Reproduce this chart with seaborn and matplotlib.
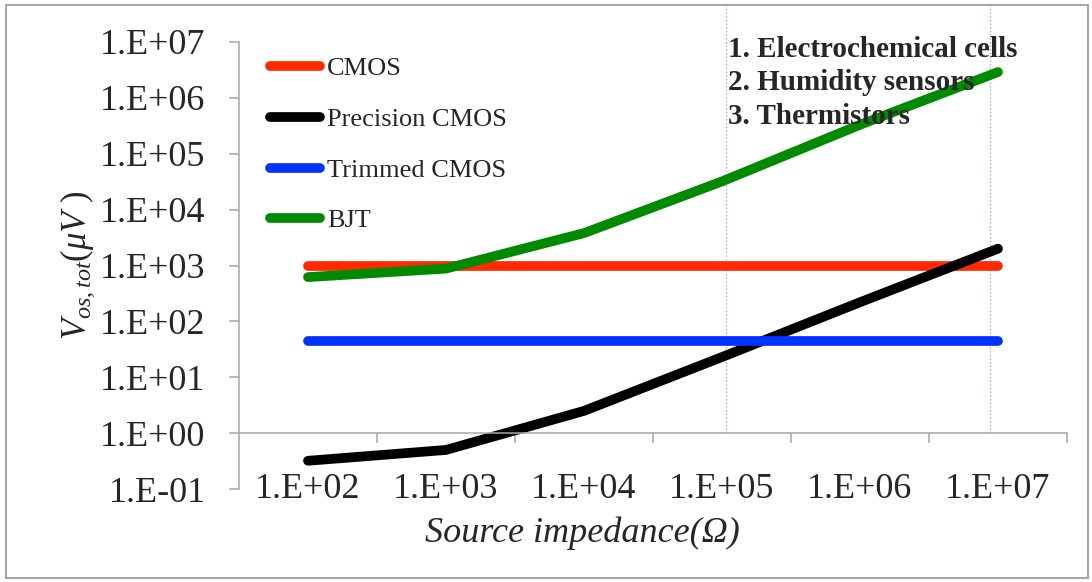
import numpy as np
import pandas as pd
import seaborn as sns
import matplotlib
matplotlib.use("Agg")
import matplotlib.pyplot as plt
from matplotlib.ticker import FixedLocator, FixedFormatter, NullLocator
from matplotlib.lines import Line2D
from matplotlib.patches import Rectangle

# ---- data ----
categories = ["1.E+02", "1.E+03", "1.E+04", "1.E+05", "1.E+06", "1.E+07"]
cmos = [1000, 1000, 1000, 1000, 1000, 1000]
precision_cmos = [0.32, 0.50, 2.5, 23, 220, 2000]
trimmed_cmos = [45, 45, 45, 45, 45, 45]
bjt = [620, 880, 3800, 32000, 330000, 2900000]
series_names = ["CMOS", "Precision CMOS", "Trimmed CMOS", "BJT"]
y_ticks = [1e-1, 1e0, 1e1, 1e2, 1e3, 1e4, 1e5, 1e6, 1e7]
y_tick_labels = ["1.E-01", "1.E+00", "1.E+01", "1.E+02", "1.E+03",
                 "1.E+04", "1.E+05", "1.E+06", "1.E+07"]
notes = ["1. Electrochemical cells", "2. Humidity sensors", "3. Thermistors"]

# ---- styling ----
sns.set_theme(style="white")
plt.rcParams["font.family"] = ["Liberation Serif", "DejaVu Serif"]
plt.rcParams["mathtext.fontset"] = "custom"
plt.rcParams["mathtext.rm"] = "Liberation Serif"
plt.rcParams["mathtext.it"] = "Liberation Serif:italic"
colors = ["#FF2A00", "#000000", "#0033FF", "#008A00"]
gray = "#A6A6A6"

x_idx = np.arange(len(categories))
df = pd.DataFrame({
    "x": np.tile(x_idx, 4),
    "value": cmos + precision_cmos + trimmed_cmos + bjt,
    "series": np.repeat(series_names, len(categories)),
})

W, H = 1092, 582
fig = plt.figure(figsize=(W / 100, H / 100), dpi=100)
ax_l, ax_r, ax_t, ax_b = 239, 1067, 42, 489
ax = fig.add_axes([ax_l / W, 1 - ax_b / H, (ax_r - ax_l) / W, (ax_b - ax_t) / H])

sns.lineplot(data=df, x="x", y="value", hue="series", hue_order=series_names,
             palette=colors, linewidth=7, legend=False, sort=False, ax=ax,
             solid_capstyle="round", solid_joinstyle="round")

ax.set_yscale("log")
ax.set_ylim(1e-1, 1e7)
ax.set_xlim(-0.5, len(categories) - 0.5)

# y axis
ax.yaxis.set_major_locator(FixedLocator(y_ticks))
ax.yaxis.set_major_formatter(FixedFormatter(y_tick_labels))
ax.yaxis.set_minor_locator(NullLocator())
ax.tick_params(axis="y", which="major", direction="out", length=7, width=1.1,
               color=gray, pad=17, labelsize=26, left=True)

# x axis: spine at y = 1, labels at the bottom, ticks between categories
ax.spines["bottom"].set_position(("data", 1))
ax.xaxis.set_major_locator(FixedLocator(x_idx))
ax.xaxis.set_major_formatter(FixedFormatter(categories))
ax.xaxis.set_minor_locator(FixedLocator(list(np.arange(0.5, len(categories), 1.0))))
ax.tick_params(axis="x", which="major", length=0, pad=29, labelsize=26, bottom=True)
ax.tick_params(axis="x", which="minor", direction="out", length=7, width=1.1,
               color=gray, bottom=True)

for s in ["top", "right"]:
    ax.spines[s].set_visible(False)
for s in ["left", "bottom"]:
    ax.spines[s].set_color(gray)
    ax.spines[s].set_linewidth(1.1)

ax.set_xlabel("")
ax.set_ylabel(r"$V_{os,tot}(\mu V\ )$", fontsize=25)
ax.yaxis.set_label_coords((97 - ax_l) / (ax_r - ax_l), 0.5)

fig.text(582 / W, 1 - 533 / H, "Source impedance(\u03a9)", fontsize=26,
         fontstyle="italic", ha="center", va="center")

# reference vertical dotted lines (in category units)
vline_pos = [3.03, 4.94]
for xv in vline_pos:
    ax.axvline(xv, ymin=(ax_b - 433) / (ax_b - ax_t), ymax=(ax_b - 5) / (ax_b - ax_t),
               color="#8DB4E2", linestyle=":", linewidth=1.0, clip_on=False, zorder=0)

# legend
handles = [Line2D([0], [0], color=c, linewidth=7, solid_capstyle="round") for c in colors]
leg = ax.legend(handles, series_names, loc="upper left",
                bbox_to_anchor=(270 / W, 1 - 57 / H), bbox_transform=fig.transFigure,
                frameon=False, fontsize=19, handlelength=1.9, handletextpad=0.27,
                labelspacing=1.03, borderpad=0, borderaxespad=0)

# notes
fig.text(728 / W, 1 - 36 / H, "\n".join(notes), fontsize=21, fontweight="bold",
         ha="left", va="top", linespacing=1.30)

# outer border
fig.patches.append(Rectangle((6 / W, 4 / H), 1082 / W, 573 / H, transform=fig.transFigure,
                             fill=False, edgecolor=gray, linewidth=1.5))

fig.savefig("out.png", dpi=100)
